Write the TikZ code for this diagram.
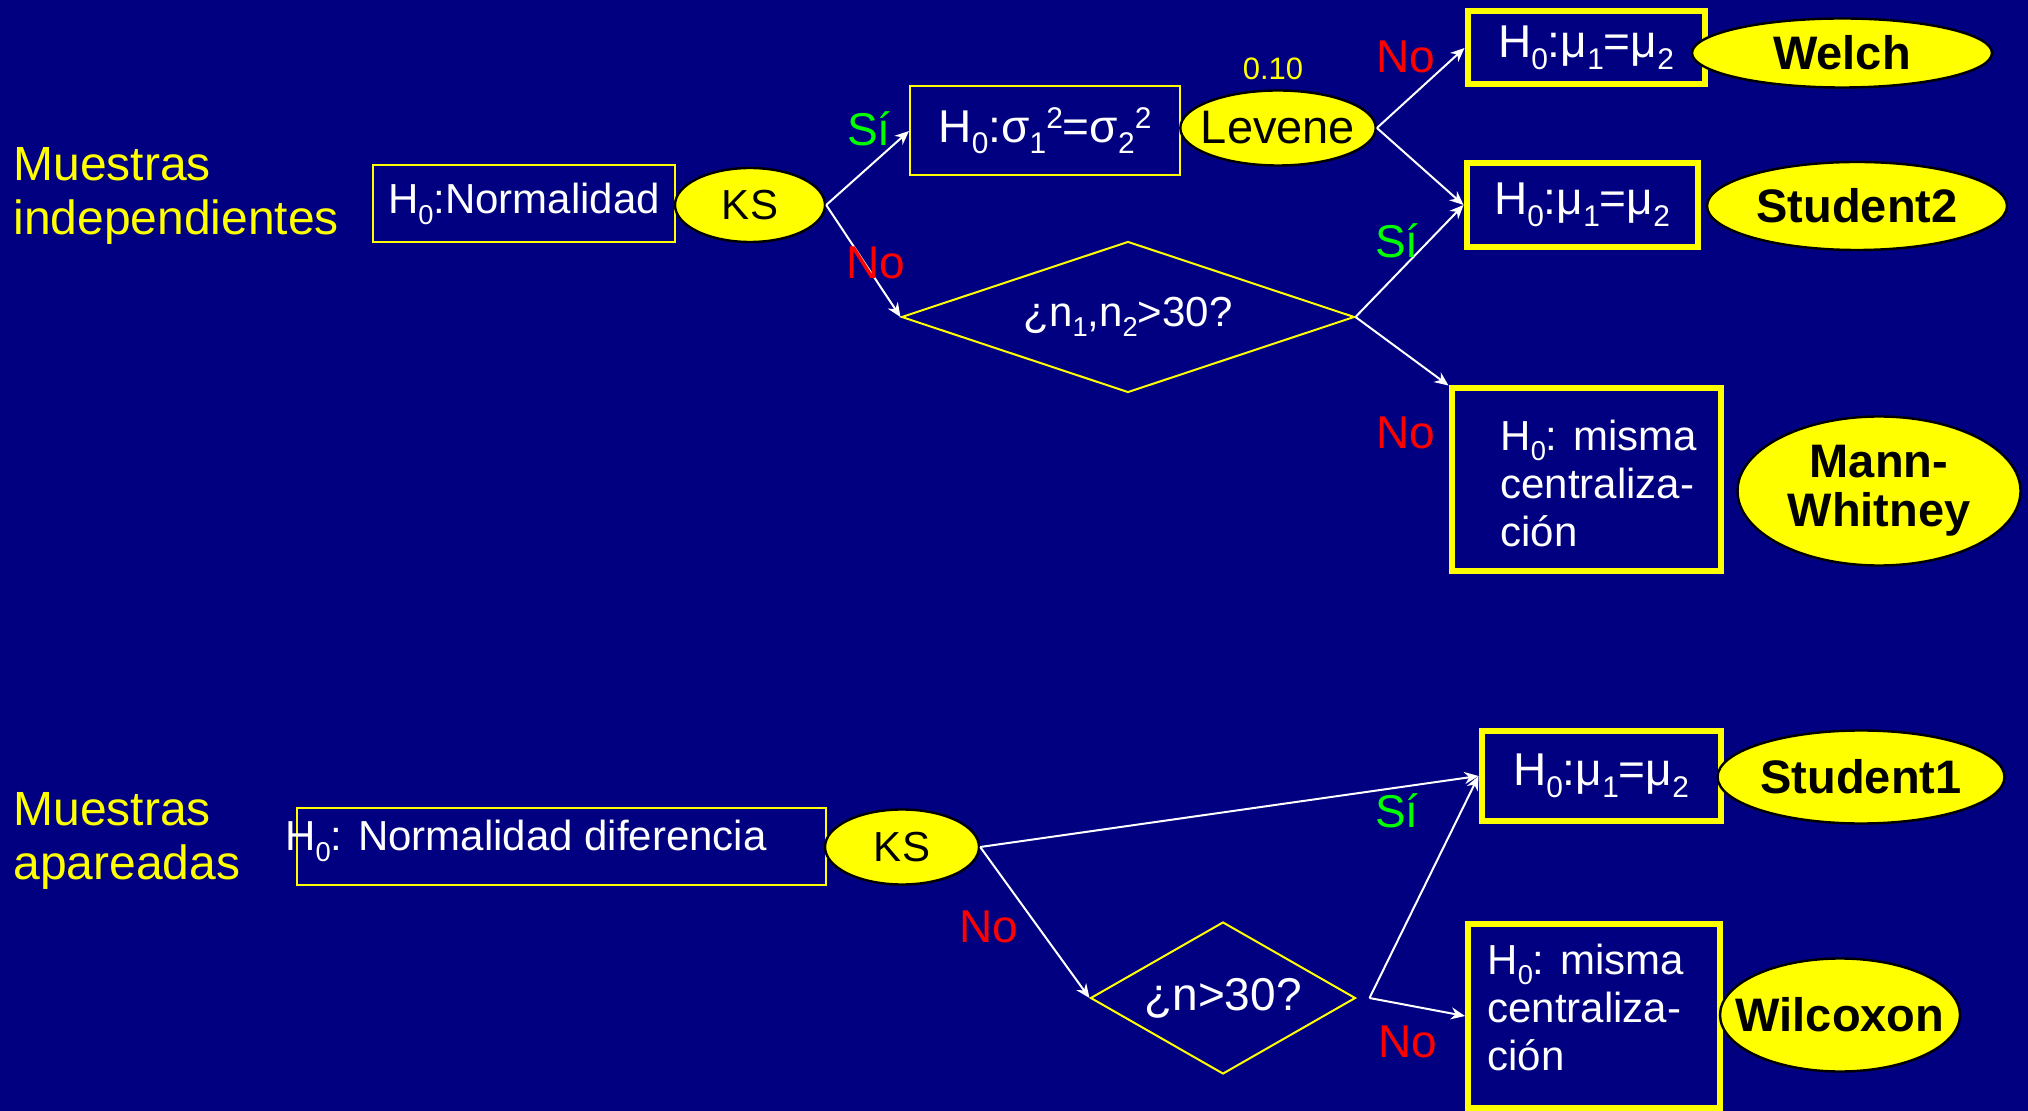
\documentclass[tikz,border=0pt]{standalone}
\usepackage{fontspec}
\usepackage{graphicx}
\setmainfont{Liberation Sans}
\usetikzlibrary{shapes.geometric,arrows.meta}
\definecolor{fondo}{RGB}{0,0,128}
\definecolor{amarillo}{RGB}{255,255,0}
\definecolor{verde}{RGB}{0,255,0}
\definecolor{rojo}{RGB}{255,0,0}
\newcommand{\hsub}[1]{\raisebox{-0.25em}{\scalebox{0.65}{#1}}}
\newcommand{\hsup}[1]{\raisebox{0.3em}{\scalebox{0.65}{#1}}}
\tikzset{
  titulo/.style={text=amarillo, align=left, inner sep=0pt, font=\fontsize{24}{27}\selectfont},
  texto/.style={text=white, inner sep=0pt, font=\fontsize{21}{24}\selectfont},
  caja/.style={draw=amarillo, line width=1pt, text=white, inner sep=0pt, font=\fontsize{21}{24}\selectfont},
  cajafin/.style={caja, line width=3pt, font=\fontsize{23}{26}\selectfont},
  prueba/.style={ellipse, draw=black, line width=1.2pt, fill=amarillo, text=black, inner sep=0pt, font=\fontsize{21}{24}\selectfont},
  final/.style={prueba, align=center, font=\bfseries\fontsize{23.5}{24.5}\selectfont},
  rombo/.style={diamond, draw=amarillo, line width=1pt, text=white, inner sep=0pt, font=\fontsize{21}{24}\selectfont},
  si/.style={text=verde, inner sep=0pt, font=\fontsize{23}{26}\selectfont},
  no/.style={text=rojo, inner sep=0pt, font=\fontsize{23}{26}\selectfont},
  flecha/.style={draw=white, line width=1pt},
}
\begin{document}
\begin{tikzpicture}[x=0.5pt, y=-0.5pt, >={Stealth[length=7pt,width=6pt]}]
    \useasboundingbox (0,0) rectangle (2028,1111);
    \fill[fondo] (0,0) rectangle (2028,1111);

    % muestras independientes
    \node[titulo, anchor=west] (ind) at (13,196) {Muestras\\independientes};
    \node[caja, minimum width=151pt, minimum height=38.5pt] (norm) at (524,204) {H\hsub{0}:Normalidad};
    \node[prueba, minimum width=75pt, minimum height=37pt] (ks1) at (750,205) {KS};
    \node[caja, minimum width=135pt, minimum height=44.5pt, font=\fontsize{23}{26}\selectfont] (sig) at (1045,131) {H\hsub{0}:σ\hsub{1}\hsup{2}=σ\hsub{2}\hsup{2}};
    \node[prueba, inner xsep=-4pt, minimum width=97pt, minimum height=37.5pt, font=\fontsize{23.5}{26}\selectfont] (lev) at (1278,128) {Levene};
    \node[text=amarillo, inner sep=0pt, font=\fontsize{15.5}{18}\selectfont] (alfa) at (1273,69) {0.10};
    \node[rombo, aspect=3, minimum width=226.5pt, minimum height=75.5pt] (dia1) at (1128,317) {¿n\hsub{1},n\hsub{2}>30?};
    \node[cajafin, minimum width=118.5pt, minimum height=36.5pt] (wbox) at (1586,48) {H\hsub{0}:μ\hsub{1}=μ\hsub{2}};
    \node[final, minimum width=150pt, minimum height=34.5pt] (welch) at (1842,53) {Welch};
    \node[cajafin, minimum width=115.5pt, minimum height=42pt] (s2box) at (1582,205) {H\hsub{0}:μ\hsub{1}=μ\hsub{2}};
    \node[final, minimum width=150pt, minimum height=44pt] (st2) at (1857,206) {Student2};
    \node[cajafin, minimum width=134.5pt, minimum height=91.5pt] (mwbox) at (1586,480) {};
    \node[texto, align=left, anchor=west] (mwT) at (1500,483) {H\hsub{0}: misma\\centraliza-\\ción};
    \node[final, minimum width=141.5pt, minimum height=74.5pt] (mw) at (1879,491) {Mann-\\Whitney};

    \draw[->,flecha] (ks1.east) -- (sig.west);
    \draw[->,flecha] (ks1.east) -- (dia1.west);
    \draw[->,flecha] (lev.east) -- (wbox.west);
    \draw[->,flecha] (lev.east) -- (s2box.west);
    \draw[->,flecha] (dia1.east) -- (s2box.west);
    \draw[->,flecha] (dia1.east) -- (mwbox.north west);

    \node[si] (si1) at (869,129) {Sí};
    \node[no] (no1) at (876,263) {No};
    \node[no] (no2) at (1406,57) {No};
    \node[si] (si2) at (1397,241) {Sí};
    \node[no] (no3) at (1406,433) {No};

    % muestras apareadas
    \node[titulo, anchor=west] (apa) at (13,841) {Muestras\\apareadas};
    \node[caja, minimum width=264.5pt, minimum height=38.5pt] (dif) at (561,846) {};
    \node[texto, anchor=west] (difT) at (285,841) {H\hsub{0}: Normalidad diferencia};
    \node[prueba, minimum width=77pt, minimum height=37.5pt] (ks2) at (902,847) {KS};
    \node[rombo, aspect=1.74, minimum width=132.5pt, minimum height=76pt, font=\fontsize{23}{26}\selectfont] (dia2) at (1223,998) {¿n>30?};
    \node[cajafin, minimum width=119.5pt, minimum height=45pt] (s1box) at (1601,776) {H\hsub{0}:μ\hsub{1}=μ\hsub{2}};
    \node[final, minimum width=143.5pt, minimum height=46.5pt] (st1) at (1861,777) {Student1};
    \node[cajafin, minimum width=126pt, minimum height=92pt] (wbox2) at (1594,1016) {};
    \node[texto, align=left, anchor=west] (wT) at (1487,1007) {H\hsub{0}: misma\\centraliza-\\ción};
    \node[final, inner xsep=-10pt, minimum width=120pt, minimum height=56.5pt] (wil) at (1840,1015) {Wilcoxon};

    \coordinate (cruce) at ([xshift=6.5pt]dia2.east);
    \draw[->,flecha] (ks2.east) -- (s1box.west);
    \draw[->,flecha] (ks2.east) -- (dia2.west);
    \draw[->,flecha] (cruce) -- (s1box.west);
    \draw[->,flecha] (cruce) -- (wbox2.west);

    \node[si] (si3) at (1397,811) {Sí};
    \node[no] (no4) at (989,927) {No};
    \node[no] (no5) at (1408,1042) {No};
\end{tikzpicture}
\end{document}
